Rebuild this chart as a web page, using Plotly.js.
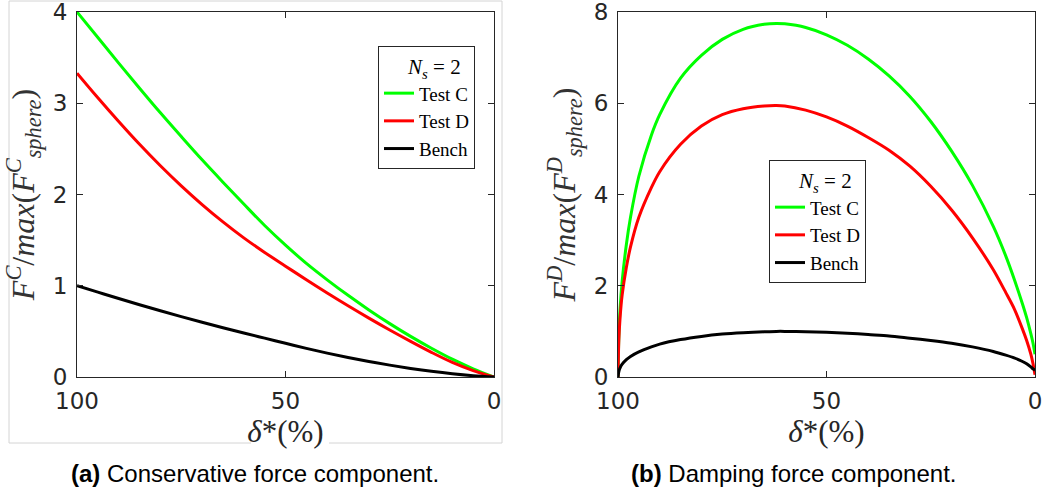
<!DOCTYPE html>
<html>
<head>
<meta charset="utf-8">
<script src="https://cdn.plot.ly/plotly-3.0.1.min.js"></script>
<style>html,body{margin:0;padding:0;background:#fff;}#chart{width:1043px;height:493px;}</style>
</head>
<body>
<div id="chart"></div>
<script>
// ---- data (panel a: conservative force) ----
const deltaA = [100, 95, 90, 85, 80, 75, 70, 65, 60, 55, 50, 45, 40, 35, 30, 25, 20, 15, 10, 5, 0];
const consTestC = [4.0, 3.72, 3.44, 3.165, 2.895, 2.635, 2.38, 2.135, 1.895, 1.66, 1.445, 1.245, 1.065, 0.895, 0.735, 0.585, 0.445, 0.315, 0.195, 0.09, 0.0];
const consTestD = [3.33, 3.06, 2.80, 2.55, 2.315, 2.095, 1.89, 1.70, 1.525, 1.365, 1.215, 1.065, 0.92, 0.78, 0.645, 0.515, 0.39, 0.27, 0.16, 0.07, 0.0];
const consBench = [1.0, 0.93, 0.86, 0.792, 0.726, 0.662, 0.60, 0.54, 0.482, 0.426, 0.37, 0.314, 0.262, 0.214, 0.17, 0.13, 0.094, 0.062, 0.035, 0.014, 0.0];

// ---- data (panel b: damping force) ----
const deltaB = [100, 99.8, 99.5, 99, 98, 97, 95, 92, 90, 85, 80, 75, 70, 65, 62, 60, 55, 50, 45, 40, 35, 30, 25, 20, 15, 10, 7, 5, 3, 2, 1, 0.5, 0];
const dampTestC = [0, 0.9, 1.5, 2.1, 2.9, 3.5, 4.4, 5.3, 5.75, 6.55, 7.05, 7.4, 7.62, 7.73, 7.75, 7.74, 7.66, 7.5, 7.27, 6.97, 6.6, 6.15, 5.6, 4.95, 4.2, 3.3, 2.65, 2.15, 1.6, 1.3, 0.95, 0.75, 0.5];
const dampTestD = [0, 0.8, 1.3, 1.8, 2.4, 2.85, 3.5, 4.15, 4.5, 5.1, 5.5, 5.75, 5.88, 5.94, 5.95, 5.94, 5.85, 5.7, 5.5, 5.25, 4.97, 4.62, 4.18, 3.66, 3.05, 2.35, 1.85, 1.5, 1.05, 0.8, 0.5, 0.3, 0.05];
const dampBench = [0, 0.12, 0.2, 0.28, 0.38, 0.45, 0.55, 0.66, 0.72, 0.82, 0.89, 0.94, 0.97, 0.99, 1.0, 1.0, 0.99, 0.98, 0.96, 0.93, 0.9, 0.85, 0.8, 0.74, 0.66, 0.56, 0.48, 0.42, 0.34, 0.29, 0.22, 0.18, 0.15];

const seriesNames = ['Test C', 'Test D', 'Bench'];
const seriesColors = ['#00ff00', '#ff0000', '#000000'];
const xTicks = [100, 50, 0];
const yTicksA = [0, 1, 2, 3, 4];
const yTicksB = [0, 2, 4, 6, 8];
const legendTitle = '&nbsp;&nbsp;&nbsp;<i>N<sub>s</sub></i> = 2';
const captionA = '<b>(a)</b> Conservative force component.';
const captionB = '<b>(b)</b> Damping force component.';
const xTitle = '<i>δ</i>*(%)';
const yTitleA = '<i>F<sup>C</sup></i>/<i>max</i>(<i>F<sup>C</sup><sub>sphere</sub></i>)';
const yTitleB = '<i>F<sup>D</sup></i>/<i>max</i>(<i>F<sup>D</sup><sub>sphere</sub></i>)';

const W = 1043, H = 493;
const px = v => v / W, py = v => 1 - v / H;

const ysA = [consTestC, consTestD, consBench];
const ysB = [dampTestC, dampTestD, dampBench];
const traces = [];
ysA.forEach((y, i) => traces.push({
  x: deltaA, y: y, name: seriesNames[i], type: 'scatter', mode: 'lines',
  line: {color: seriesColors[i], width: 3, shape: 'spline', smoothing: 1},
  xaxis: 'x', yaxis: 'y', legend: 'legend'
}));
ysB.forEach((y, i) => traces.push({
  x: deltaB, y: y, name: seriesNames[i], type: 'scatter', mode: 'lines',
  line: {color: seriesColors[i], width: 3, shape: 'spline', smoothing: 0.8},
  xaxis: 'x2', yaxis: 'y2', legend: 'legend2'
}));

const axCol = '#262626';
const tickFont = {family: 'DejaVu Sans', size: 23, color: axCol};
const xTitleFont = {family: 'Liberation Serif', size: 31, color: axCol};
const yTitleFont = {family: 'Liberation Serif', size: 32, color: '#333'};
function xa(domain, anchor) {
  return {domain: domain, anchor: anchor, range: [100, 0], tickvals: xTicks, ticktext: xTicks.map(String),
    ticks: 'inside', ticklen: 6, tickcolor: axCol, showline: true, linecolor: axCol, linewidth: 1,
    mirror: 'ticks', showgrid: false, zeroline: false, tickfont: tickFont, ticklabelstandoff: 3,
    ticklabeloverflow: 'allow',
    title: {text: xTitle, font: xTitleFont, standoff: 0}};
}
function ya(domain, anchor, range, ticks, title) {
  return {domain: domain, anchor: anchor, range: range, tickvals: ticks, ticktext: ticks.map(String),
    ticks: 'inside', ticklen: 6, tickcolor: axCol, showline: true, linecolor: axCol, linewidth: 1,
    mirror: 'ticks', showgrid: false, zeroline: false, tickfont: tickFont, ticklabelstandoff: 4,
    ticklabeloverflow: 'allow',
    title: {text: title, font: yTitleFont, standoff: 8}};
}
const legFont = {family: 'Liberation Serif', size: 19, color: '#000'};
function leg(xl, yt) {
  return {x: px(xl), y: py(yt), xanchor: 'left', yanchor: 'top', bgcolor: '#fff',
    bordercolor: axCol, borderwidth: 1, font: legFont, itemwidth: 30, tracegroupgap: 0,
    title: {text: legendTitle, side: 'top center', font: {family: 'Liberation Serif', size: 21, color: '#000'}}};
}
const frameCol = '#d4d4d4';
const shapes = [
  // light frame around panel (a)
  {type: 'line', xref: 'paper', yref: 'paper', x0: px(9), x1: px(502), y0: py(1), y1: py(1), line: {color: frameCol, width: 1}},
  {type: 'line', xref: 'paper', yref: 'paper', x0: px(9), x1: px(9), y0: py(1), y1: py(443), line: {color: frameCol, width: 1}},
  {type: 'line', xref: 'paper', yref: 'paper', x0: px(502), x1: px(502), y0: py(1), y1: py(443), line: {color: frameCol, width: 1}},
  {type: 'line', xref: 'paper', yref: 'paper', x0: px(9), x1: px(251), y0: py(443), y1: py(443), line: {color: frameCol, width: 1}},
  {type: 'line', xref: 'paper', yref: 'paper', x0: px(329), x1: px(502), y0: py(443), y1: py(443), line: {color: frameCol, width: 1}},
  // legend title separators
  {type: 'line', xref: 'paper', yref: 'paper', x0: px(378), x1: px(473), y0: py(76), y1: py(76), line: {color: axCol, width: 1}},
  {type: 'line', xref: 'paper', yref: 'paper', x0: px(769), x1: px(864), y0: py(190), y1: py(190), line: {color: axCol, width: 1}}
];
const capFont = {family: 'Liberation Sans', size: 24, color: '#000'};
const layout = {
  width: W, height: H, margin: {l: 0, r: 0, t: 0, b: 0},
  paper_bgcolor: '#fff', plot_bgcolor: '#fff',
  xaxis: xa([px(77), px(494)], 'y'),
  yaxis: ya([py(377), py(12)], 'x', [0, 4], yTicksA, yTitleA),
  xaxis2: xa([px(618), px(1035)], 'y2'),
  yaxis2: ya([py(377), py(12)], 'x2', [0, 8], yTicksB, yTitleB),
  legend: leg(378, 46),
  legend2: leg(769, 160),
  shapes: shapes,
  annotations: [
    {text: captionA, xref: 'paper', yref: 'paper', x: px(255), y: py(473), xanchor: 'center', yanchor: 'middle', showarrow: false, font: capFont},
    {text: captionB, xref: 'paper', yref: 'paper', x: px(793), y: py(473), xanchor: 'center', yanchor: 'middle', showarrow: false, font: capFont}
  ]
};
Plotly.newPlot('chart', traces, layout, {displayModeBar: false, staticPlot: true});
</script>
</body>
</html>
